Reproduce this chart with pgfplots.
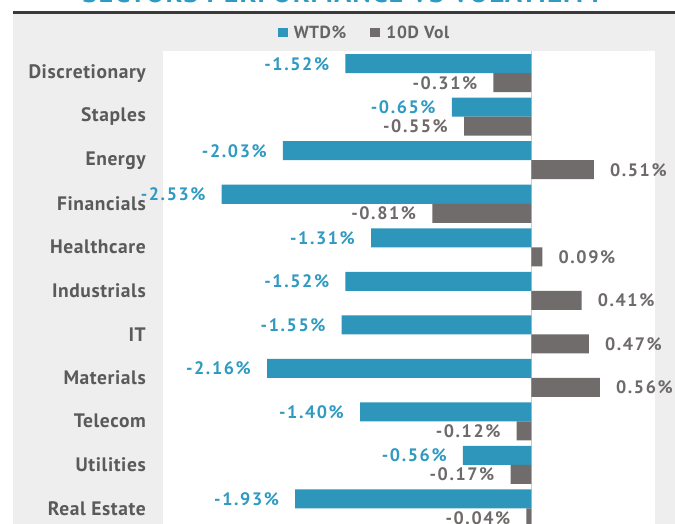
\documentclass[border=0pt]{standalone}
\usepackage{pgfplots}
\usepackage{pgfplotstable}
\pgfplotsset{compat=1.18}
\usepackage{fontspec}
\setmainfont{PT Sans}
\definecolor{wtd}{HTML}{2E96BA}
\definecolor{vol}{HTML}{706C6B}
\definecolor{wtdtxt}{HTML}{2F9AC2}
\definecolor{voltxt}{HTML}{6E6A69}
\definecolor{cat}{HTML}{5A5A5A}
\definecolor{legtxt}{HTML}{656565}
\definecolor{bg}{HTML}{EEEEEE}
\definecolor{rulec}{HTML}{3A3A3A}

\pgfplotstableread{
y wtd vol
10 -1.52 -0.31
9 -0.65 -0.55
8 -2.03 0.51
7 -2.53 -0.81
6 -1.31 0.09
5 -1.52 0.41
4 -1.55 0.47
3 -2.16 0.56
2 -1.40 -0.12
1 -0.56 -0.17
0 -1.93 -0.04
}\datatable

\begin{document}
\begin{tikzpicture}
\useasboundingbox (0pt,0pt) rectangle (675pt,-524pt);
\begin{scope}
\clip (0pt,0pt) rectangle (675pt,-524pt);
\fill[white] (0pt,0pt) rectangle (675pt,-524pt);
\fill[bg] (13pt,-14pt) rectangle (675pt,-524pt);
\fill[rulec] (13pt,-10.7pt) rectangle (675pt,-14pt);
\node[anchor=base, text=wtdtxt, font=\bfseries\fontsize{28}{28}\selectfont\addfontfeatures{LetterSpace=4}] at (343pt,-2.2pt) {SECTORS PERFORMANCE VS VOLATILITY};
\begin{axis}[
 at={(163pt,-51.5pt)}, anchor=north west,
 scale only axis, width=492pt, height=478.5pt,
 xmin=-3.01, xmax=1.01, ymin=-0.5, ymax=10.5,
 axis background/.style={fill=white},
 axis line style={draw=none},
 xtick=\empty,
 ytick={0,...,10},
 yticklabels={Real Estate,Utilities,Telecom,Materials,IT,Industrials,Healthcare,Financials,Energy,Staples,Discretionary},
 major tick length=0pt,
 yticklabel style={font=\bfseries\fontsize{19.5}{19.5}\selectfont\addfontfeatures{LetterSpace=3}, text=cat, anchor=east, inner xsep=0pt, xshift=-17pt},
 extra x ticks={0}, extra x tick labels={}, extra x tick style={grid=major, major grid style={draw=black!20, line width=0.6pt}},
 xbar, bar width=19pt,
 point meta=x,
 nodes near coords={\pgfmathprintnumber[fixed,fixed zerofill,precision=2,assume math mode=true]{\pgfplotspointmeta}\%},
 nodes near coords style={font=\bfseries\fontsize{18}{18}\selectfont\addfontfeatures{LetterSpace=9}, inner xsep=16pt},
 legend style={at={(0.4096,1.0387)}, anchor=center, draw=none, fill=none, legend columns=2,
   font=\bfseries\fontsize{17.5}{17.5}\selectfont\addfontfeatures{LetterSpace=4}, text=legtxt, inner sep=0pt,
   /tikz/every odd column/.append style={column sep=4pt},
   /tikz/every even column/.append style={column sep=22pt}},
 legend image code/.code={\fill[#1,draw=none] (0pt,-4.5pt) rectangle (10pt,4.5pt);},
]
\addplot[fill=wtd, draw=none, bar shift=9.5pt, nodes near coords style={text=wtdtxt}] table[x=wtd,y=y]{\datatable};
\addplot[fill=vol, draw=none, bar shift=-9.5pt, nodes near coords style={text=voltxt}] table[x=vol,y=y]{\datatable};
\legend{WTD\%, 10D Vol}
\end{axis}
\end{scope}
\end{tikzpicture}
\end{document}
